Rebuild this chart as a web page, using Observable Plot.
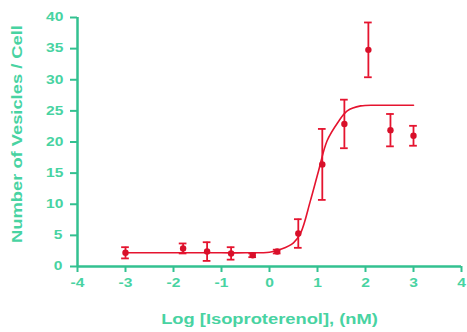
<!DOCTYPE html>
<html>
<head>
<meta charset="utf-8">
<script src="https://cdn.jsdelivr.net/npm/d3@7"></script>
<script src="https://cdn.jsdelivr.net/npm/@observablehq/plot@0.6"></script>
<style>
  html, body { margin: 0; padding: 0; background: #fff; }
  #chart svg { display: block; }
</style>
</head>
<body>
<div id="chart"></div>
<script>
// Measured points: log[isoproterenol] (nM), vesicles per cell, error (SEM)
const logConc = [-3, -1.8, -1.3, -0.8, -0.35, 0.16, 0.6, 1.1, 1.56, 2.06, 2.52, 3.0];
const vesicles = [2.2, 2.9, 2.4, 2.1, 1.8, 2.4, 5.3, 16.4, 22.9, 34.8, 21.9, 21.0];
const errors = [0.9, 0.8, 1.5, 1.0, 0.3, 0.3, 2.3, 5.7, 3.9, 4.4, 2.6, 1.6];

// Fitted curve
const curveX = [-3, -2, -1, -0.5, 0, 0.25, 0.5, 0.65, 0.85, 1.02, 1.2, 1.42, 1.62, 1.9, 2.3, 3.0];
const curveY = [2.2, 2.2, 2.2, 2.2, 2.3, 2.8, 3.8, 5.4, 10.5, 15.3, 20.2, 23.1, 25.0, 25.8, 25.9, 25.9];

const xTicks = [-4, -3, -2, -1, 0, 1, 2, 3, 4];
const yTicks = [0, 5, 10, 15, 20, 25, 30, 35, 40];
const xLabel = "Log [Isoproterenol], (nM)";
const yLabel = "Number of Vesicles / Cell";

const points = logConc.map((x, i) => ({x, y: vesicles[i], e: errors[i]}));
const curve = curveX.map((x, i) => ({x, y: curveY[i]}));

const teal = "#33c190";
const tealText = "#48d3a2";
const red = "#e5142f";
const cap = 0.08;

const chart = Plot.plot({
  width: 467,
  height: 332,
  marginLeft: 77,
  marginRight: 6,
  marginTop: 17,
  marginBottom: 66,
  style: {fontFamily: "Liberation Sans, Arial, sans-serif", fontWeight: "bold", background: "#fff"},
  x: {domain: [-4, 4], label: null},
  y: {domain: [0, 40], label: null},
  marks: [
    Plot.axisX({ticks: xTicks, tickFormat: d => String(d), tickSize: 6, tickPadding: 6, stroke: teal, strokeWidth: 2,
      color: tealText, fontSize: 12, label: null}),
    Plot.axisY({ticks: yTicks, tickFormat: d => String(d), tickSize: 7, tickPadding: 9, stroke: teal, strokeWidth: 2,
      color: tealText, fontSize: 12, label: null}),
    Plot.text([xLabel], {frameAnchor: "bottom", dy: 57, textAnchor: "middle", fill: tealText, fontSize: 14, fontWeight: "bold"}),
    Plot.text([yLabel], {frameAnchor: "left", dx: -60, dy: -8, rotate: -90, textAnchor: "middle", lineAnchor: "middle",
      fill: tealText, fontSize: 14, fontWeight: "bold"}),
    Plot.ruleX([-4], {stroke: teal, strokeWidth: 2.5}),
    Plot.ruleY([0], {stroke: teal, strokeWidth: 2.5}),
    Plot.line(curve, {x: "x", y: "y", curve: "catmull-rom", stroke: red, strokeWidth: 1.6}),
    Plot.ruleX(points, {x: "x", y1: d => d.y - d.e, y2: d => d.y + d.e, stroke: red, strokeWidth: 1.8}),
    Plot.ruleY(points, {y: d => d.y + d.e, x1: d => d.x - cap, x2: d => d.x + cap, stroke: red, strokeWidth: 1.8}),
    Plot.ruleY(points, {y: d => d.y - d.e, x1: d => d.x - cap, x2: d => d.x + cap, stroke: red, strokeWidth: 1.8}),
    Plot.dot(points, {x: "x", y: "y", r: 3.2, fill: "#d8102a", stroke: "none"})
  ]
});
document.getElementById("chart").appendChild(chart);
// The reference's lettering is horizontally wide: stretch each text about its own centre
chart.querySelectorAll("text").forEach(t => {
  t.setAttribute("font-weight", "bold");
  const s = t.textContent;
  const w = t.getComputedTextLength();
  const k = s === xLabel ? 217 / w : s === yLabel ? 218 / w : 1.3;
  const b = t.getBBox();
  const cx = b.x + b.width / 2, cy = b.y + b.height / 2;
  const tr = t.getAttribute("transform") || "";
  t.setAttribute("transform", `${tr} translate(${cx},${cy}) scale(${k},1) translate(${-cx},${-cy})`);
});
</script>
</body>
</html>
